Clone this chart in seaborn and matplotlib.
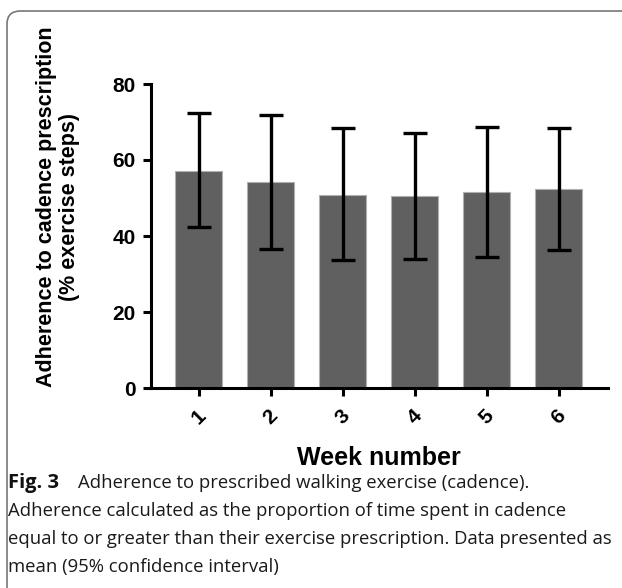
import matplotlib
matplotlib.use("Agg")
import matplotlib.pyplot as plt
from matplotlib.patches import FancyBboxPatch
import pandas as pd
import numpy as np
import seaborn as sns

# values (mean and 95% CI)
weeks = ["1", "2", "3", "4", "5", "6"]
means = [57.2, 54.2, 50.9, 50.4, 51.5, 52.5]
ci_low = [42.4, 36.7, 33.7, 33.9, 34.6, 36.4]
ci_high = [72.3, 71.8, 68.3, 67.2, 68.7, 68.5]

y_ticks = [0, 20, 40, 60, 80]
y_label = "Adherence to cadence prescription\n(% exercise steps)"
x_label = "Week number"
caption_lines = [
    "Adherence to prescribed walking exercise (cadence).",
    "Adherence calculated as the proportion of time spent in cadence",
    "equal to or greater than their exercise prescription. Data presented as",
    "mean (95% confidence interval)",
]

df = pd.DataFrame({"week": weeks, "mean": means, "lo": ci_low, "hi": ci_high})

sns.set_style("ticks", {"axes.edgecolor": "black", "text.color": "black",
                        "axes.labelcolor": "black", "xtick.color": "black",
                        "ytick.color": "black"})
plt.rcParams["font.family"] = ["Liberation Sans", "DejaVu Sans"]

W, H = 622, 588
fig = plt.figure(figsize=(W / 100, H / 100), dpi=100)
ax = fig.add_axes([150.7 / W, 1 - 388 / H, (608 - 150.7) / W, (388 - 84) / H])

sns.barplot(data=df, x="week", y="mean", order=weeks, color="#606060",
            saturation=1, width=0.66, edgecolor="#b0b0b0", linewidth=0.8,
            errorbar=None, ax=ax)

# error bars from the CI columns
x = np.arange(len(weeks))
yerr = [df["mean"] - df["lo"], df["hi"] - df["mean"]]
ax.errorbar(x, df["mean"], yerr=yerr, fmt="none", ecolor="black",
            elinewidth=2.4, capsize=8.4, capthick=2.4, zorder=3)

ax.set_xlim(-0.667, 5.685)
ax.set_ylim(0, 80)
ax.set_yticks(y_ticks)
sns.despine(ax=ax)
for side in ["left", "bottom"]:
    ax.spines[side].set_linewidth(2.2)
ax.tick_params(axis="both", width=2.2, length=6, labelsize=15,
               colors="black")
ax.tick_params(axis="y", pad=5)
ax.tick_params(axis="x", pad=7)
for lab in ax.get_yticklabels():
    lab.set_fontweight("bold")
for lab in ax.get_xticklabels():
    lab.set_fontweight("bold")
    lab.set_rotation(45)
    lab.set_ha("center")
    lab.set_va("top")

ax.set_ylabel(y_label, fontsize=15.5, fontweight="bold", va="center",
              linespacing=1.15)
ax.yaxis.set_label_coords(-0.203, 0.595)
ax.set_xlabel(x_label, fontsize=18, fontweight="bold", va="center")
ax.xaxis.set_label_coords(0.499, -0.230)

# caption
cap_font = ["Open Sans", "DejaVu Sans"]
fig.text(8 / W, 1 - 488 / H, "Fig. 3", fontsize=14.5, fontweight="bold",
         family=cap_font, color="#111111", va="baseline")
fig.text(78 / W, 1 - 488 / H, caption_lines[0], fontsize=13.3,
         family=cap_font, color="#1a1a1a", va="baseline")
for i, line in enumerate(caption_lines[1:]):
    fig.text(8 / W, 1 - (516 + 28 * i) / H, line, fontsize=13.3,
             family=cap_font, color="#1a1a1a", va="baseline")

# rounded frame around the figure
frame = FancyBboxPatch((7 / W, -20 / H), (W + 30) / W, (H + 20 - 11) / H,
                       boxstyle="round,pad=0,rounding_size=0.022",
                       transform=fig.transFigure, fill=False,
                       edgecolor="#777777", linewidth=1.2)
fig.patches.append(frame)

fig.savefig("out.png", dpi=100)
